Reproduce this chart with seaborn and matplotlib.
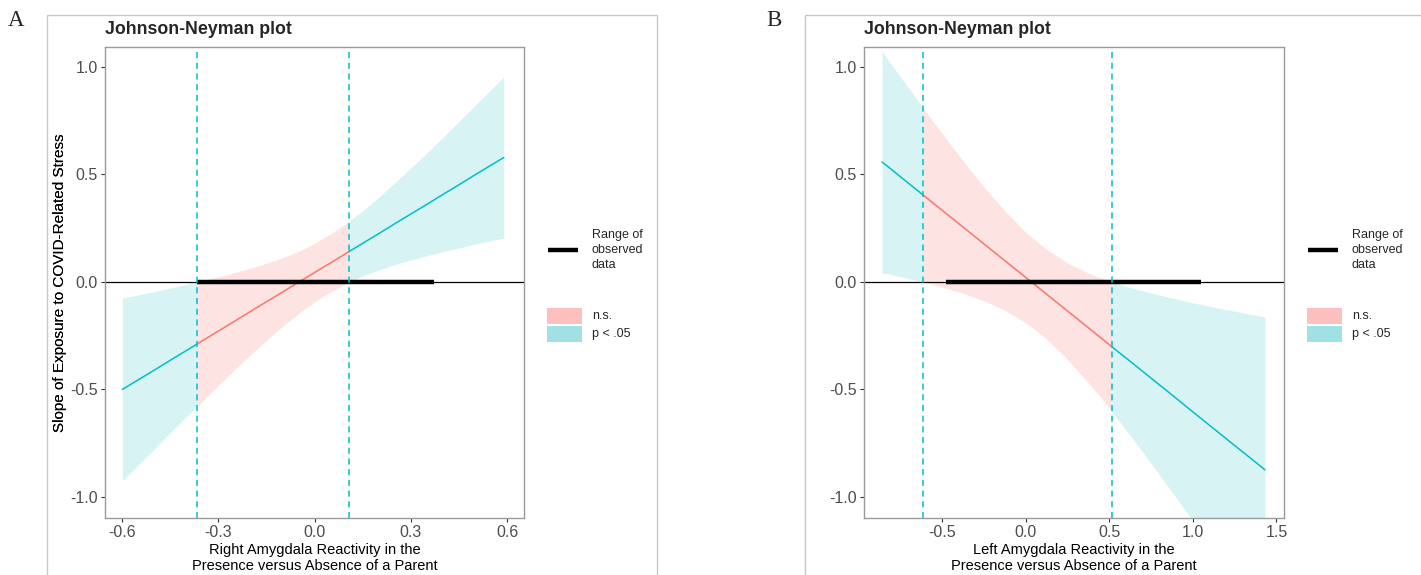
import matplotlib
matplotlib.use("Agg")
import matplotlib.pyplot as plt
from matplotlib.patches import Rectangle
from matplotlib.lines import Line2D
import numpy as np
import pandas as pd
import seaborn as sns

# ---------------- data ----------------
a_x   = [-0.60, -0.55, -0.50, -0.45, -0.40, -0.367, -0.30, -0.25, -0.20, -0.15, -0.10, -0.05, 0.00,
         0.05, 0.107, 0.15, 0.20, 0.25, 0.30, 0.35, 0.40, 0.45, 0.50, 0.55, 0.59]
a_est = [-0.500, -0.455, -0.410, -0.364, -0.319, -0.289, -0.228, -0.183, -0.137, -0.092, -0.047, -0.001, 0.044,
         0.089, 0.141, 0.180, 0.225, 0.271, 0.316, 0.361, 0.407, 0.452, 0.498, 0.543, 0.579]
a_lo  = [-0.925, -0.850, -0.776, -0.700, -0.626, -0.579, -0.480, -0.408, -0.338, -0.271, -0.206, -0.146, -0.092,
         -0.045, 0.000, 0.028, 0.056, 0.081, 0.102, 0.122, 0.141, 0.158, 0.176, 0.192, 0.204]
a_hi  = [-0.075, -0.060, -0.045, -0.028, -0.011, 0.000, 0.024, 0.043, 0.064, 0.087, 0.113, 0.143, 0.180,
         0.224, 0.282, 0.332, 0.394, 0.461, 0.530, 0.600, 0.673, 0.746, 0.820, 0.894, 0.954]
a_jn = [-0.367, 0.107]
a_range = [-0.367, 0.373]
a_xticks = [-0.6, -0.3, 0.0, 0.3, 0.6]
a_xlabels = ["-0.6", "-0.3", "0.0", "0.3", "0.6"]
a_xlabel = "Right Amygdala Reactivity in the\nPresence versus Absence of a Parent"

b_x   = [-0.862, -0.80, -0.75, -0.70, -0.65, -0.617, -0.50, -0.375, -0.25, -0.125, 0.00, 0.125,
         0.25, 0.375, 0.45, 0.515, 0.625, 0.75, 0.875, 1.00, 1.125, 1.25, 1.35, 1.431]
b_est = [0.558, 0.520, 0.488, 0.457, 0.426, 0.405, 0.332, 0.254, 0.176, 0.098, 0.020, -0.058,
         -0.136, -0.214, -0.261, -0.302, -0.370, -0.448, -0.526, -0.605, -0.683, -0.761, -0.823, -0.874]
b_lo  = [0.043, 0.033, 0.024, 0.015, 0.006, 0.000, -0.024, -0.053, -0.088, -0.132, -0.190, -0.266,
         -0.361, -0.470, -0.540, -0.604, -0.715, -0.845, -0.978, -1.112, -1.248, -1.385, -1.495, -1.585]
b_hi  = [1.073, 1.006, 0.952, 0.899, 0.846, 0.810, 0.688, 0.561, 0.440, 0.329, 0.230, 0.150,
         0.088, 0.041, 0.018, 0.000, -0.026, -0.052, -0.075, -0.097, -0.117, -0.136, -0.151, -0.163]
b_jn = [-0.617, 0.515]
b_range = [-0.479, 1.048]
b_xticks = [-0.5, 0.0, 0.5, 1.0, 1.5]
b_xlabels = ["-0.5", "0.0", "0.5", "1.0", "1.5"]
b_xlabel = "Left Amygdala Reactivity in the\nPresence versus Absence of a Parent"

yticks = [-1.0, -0.5, 0.0, 0.5, 1.0]
ylabels = ["-1.0", "-0.5", "0.0", "0.5", "1.0"]
ylabel = "Slope of Exposure to COVID-Related Stress"
title = "Johnson-Neyman plot"
legend_labels = ["Range of\nobserved\ndata", "n.s.", "p < .05"]
panel_letters = ["A", "B"]

# ---------------- style ----------------
sns.set_theme(style="white")
plt.rcParams['font.family'] = ['Liberation Sans', 'DejaVu Sans']

C_SIG = "#00BFC4"
C_NS = "#F8766D"
F_SIG = "#D8F3F4"
F_NS = "#FDE3E1"
L_SIG = "#A0E1E4"
L_NS = "#FFBFBC"

W, H = 1421, 575
fig = plt.figure(figsize=(W / 100, H / 100), dpi=100)

def fx(px):
    return px / W

def fy(py):
    return 1 - py / H

# panel outer boxes
fig.add_artist(Rectangle((fx(47), -0.01), fx(657) - fx(47), fy(15) + 0.01,
                         transform=fig.transFigure, fill=False, ec="#C8C8C8", lw=1.0))
fig.add_artist(Rectangle((fx(805), -0.01), 0.5, fy(15) + 0.01,
                         transform=fig.transFigure, fill=False, ec="#C8C8C8", lw=1.0))

fig.text(fx(8), fy(20), panel_letters[0], family="Liberation Serif", fontsize=16.5, va="center", ha="left")
fig.text(fx(766), fy(20), panel_letters[1], family="Liberation Serif", fontsize=16.5, va="center", ha="left")

panels = [
    dict(left=105, right=524, x=a_x, est=a_est, lo=a_lo, hi=a_hi, jn=a_jn, rng=a_range,
         xlim=(-0.654, 0.653), xt=a_xticks, xl=a_xlabels, xlabel=a_xlabel),
    dict(left=864, right=1284, x=b_x, est=b_est, lo=b_lo, hi=b_hi, jn=b_jn, rng=b_range,
         xlim=(-0.970, 1.545), xt=b_xticks, xl=b_xlabels, xlabel=b_xlabel),
]

top, bottom = 47, 518
for p in panels:
    ax = fig.add_axes([fx(p["left"]), fy(bottom), fx(p["right"]) - fx(p["left"]), (bottom - top) / H])
    df = pd.DataFrame({"x": p["x"], "est": p["est"], "lo": p["lo"], "hi": p["hi"]})
    j0, j1 = p["jn"]
    segs = [
        (df[df.x <= j0 + 1e-9], F_SIG, C_SIG),
        (df[(df.x >= j0 - 1e-9) & (df.x <= j1 + 1e-9)], F_NS, C_NS),
        (df[df.x >= j1 - 1e-9], F_SIG, C_SIG),
    ]
    for seg, fcol, lcol in segs:
        ax.fill_between(seg.x, seg.lo, seg.hi, color=fcol, lw=0, zorder=1)
    ax.axhline(0, color="black", lw=0.9, zorder=2)
    for seg, fcol, lcol in segs:
        sns.lineplot(data=seg, x="x", y="est", color=lcol, lw=1.1, ax=ax, zorder=3,
                     estimator=None, sort=True)
    ax.plot(p["rng"], [0, 0], color="black", lw=3.2, solid_capstyle="butt", zorder=4)
    for v in p["jn"]:
        ax.axvline(v, color=C_SIG, ls=(0, (4, 3)), lw=1.1, zorder=5)

    ax.set_xlim(*p["xlim"])
    ax.set_ylim(-1.098, 1.093)
    ax.set_xticks(p["xt"])
    ax.set_xticklabels(p["xl"])
    ax.set_yticks(yticks)
    ax.set_yticklabels(ylabels)
    ax.tick_params(axis="both", which="both", length=3, width=0.8, color="#333333",
                   labelcolor="#4D4D4D", labelsize=11.5, pad=2, bottom=True, left=True)
    for s in ax.spines.values():
        s.set_color("#9A9A9A")
        s.set_linewidth(1.0)

    aw = p["right"] - p["left"]
    ah = bottom - top
    ax.set_xlabel(p["xlabel"], fontsize=10.5, color="black", linespacing=1.15)
    ax.xaxis.set_label_coords(0.5, (bottom - 558) / ah)
    ax.xaxis.label.set_va("center")
    ax.set_ylabel(ylabel, fontsize=11, color="black")
    ax.yaxis.set_label_coords((60 - p["left"]) / aw, 0.5)
    ax.yaxis.label.set_va("center")

    ax.text(0, 1 + (top - 30) / ah, title, transform=ax.transAxes, fontsize=12.8,
            fontweight="bold", ha="left", va="center")

    # legend (drawn manually in axes fraction)
    def axx(px):
        return (px - p["left"]) / aw

    def axy(py):
        return (bottom - py) / ah

    base = p["right"] + 24
    ax.add_line(Line2D([axx(base), axx(base + 30)], [axy(250), axy(250)], color="black",
                       lw=3.2, transform=ax.transAxes, clip_on=False, solid_capstyle="butt"))
    ax.text(axx(base + 44), axy(250), legend_labels[0], transform=ax.transAxes,
            fontsize=9, va="center", ha="left", linespacing=1.3)
    ax.add_patch(Rectangle((axx(base - 1), axy(324)), axx(base + 34) - axx(base - 1), axy(308) - axy(324),
                           transform=ax.transAxes, color=L_NS, lw=0, clip_on=False))
    ax.add_patch(Rectangle((axx(base - 1), axy(342)), axx(base + 34) - axx(base - 1), axy(326) - axy(342),
                           transform=ax.transAxes, color=L_SIG, lw=0, clip_on=False))
    ax.text(axx(base + 44), axy(316), legend_labels[1], transform=ax.transAxes,
            fontsize=9, va="center", ha="left")
    ax.text(axx(base + 44), axy(334), legend_labels[2], transform=ax.transAxes,
            fontsize=9, va="center", ha="left")

fig.savefig("out.png", dpi=100)
